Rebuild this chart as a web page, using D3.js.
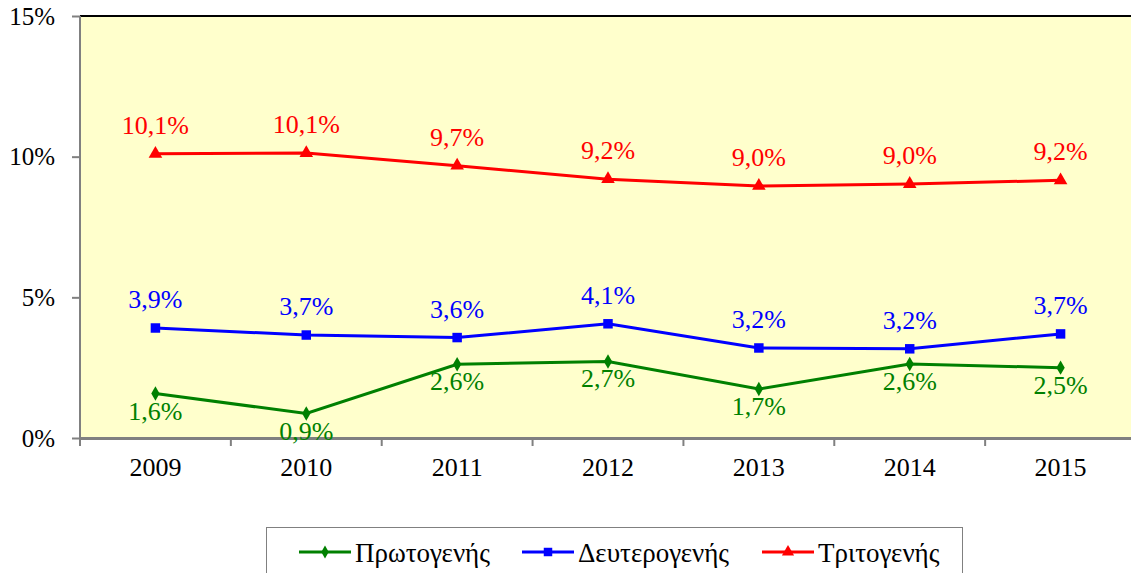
<!doctype html>
<head>
  <meta charset="utf-8">
  <script src="https://cdnjs.cloudflare.com/ajax/libs/d3/7.8.2/d3.min.js"></script>
</head>
<style>
    body { margin: 0; background: #fff; }
    svg { display: block; }
</style>
<body>
    <div id="chart"></div>
    <script>
        // Δεδομένα
        const years = ['2009', '2010', '2011', '2012', '2013', '2014', '2015'];
        const primary = [1.58, 0.87, 2.62, 2.72, 1.74, 2.63, 2.5];
        const secondary = [3.91, 3.66, 3.57, 4.06, 3.2, 3.17, 3.7];
        const tertiary = [10.1, 10.13, 9.68, 9.2, 8.96, 9.03, 9.16];
        const seriesNames = ['Πρωτογενής', 'Δευτερογενής', 'Τριτογενής'];
        const yTicks = [0, 5, 10, 15];

        const FONT = '"Liberation Serif", "Times New Roman", serif';

        const series = [
            {name: seriesNames[0], values: primary, color: '#008000', symbol: d3.symbolDiamond, size: 60, labelDy: 26},
            {name: seriesNames[1], values: secondary, color: '#0000ff', symbol: d3.symbolSquare, size: 90, labelDy: -20},
            {name: seriesNames[2], values: tertiary, color: '#ff0000', symbol: d3.symbolTriangle, size: 80, labelDy: -20},
        ];

        const W = 1131, H = 573;
        const plot = {left: 80, top: 16, right: 1136, bottom: 438};

        const svg = d3.select('#chart').append('svg')
            .attr('width', W).attr('height', H)
            .attr('font-family', FONT);

        const x = d3.scaleBand().domain(years).range([plot.left, plot.right]);
        const y = d3.scaleLinear().domain([0, 15]).range([plot.bottom, plot.top]);

        // Φόντο περιοχής
        svg.append('rect')
            .attr('x', plot.left).attr('y', plot.top)
            .attr('width', plot.right - plot.left).attr('height', plot.bottom - plot.top)
            .attr('fill', '#ffffcc');
        svg.append('line')
            .attr('x1', plot.left).attr('x2', plot.right)
            .attr('y1', plot.top).attr('y2', plot.top)
            .attr('stroke', '#000').attr('stroke-width', 2);

        // Άξονας y
        const yAxis = svg.append('g')
            .attr('transform', `translate(${plot.left},0)`)
            .call(d3.axisLeft(y).tickValues(yTicks).tickSize(8).tickPadding(17)
                .tickFormat(d => d + '%'));
        yAxis.attr('font-family', FONT);
        yAxis.selectAll('path, line').attr('stroke', '#808080').attr('stroke-width', 2);
        yAxis.select('.domain').attr('d', `M0,${plot.bottom}V${plot.top}`);
        yAxis.selectAll('text').attr('font-size', 25).attr('fill', '#000');

        // Άξονας x
        const xAxis = svg.append('g')
            .attr('transform', `translate(0,${plot.bottom})`)
            .call(d3.axisBottom(x).tickSize(0).tickPadding(20));
        xAxis.attr('font-family', FONT);
        xAxis.select('.domain').attr('stroke', '#808080').attr('stroke-width', 3);
        xAxis.selectAll('text').attr('font-size', 26).attr('fill', '#000');
        xAxis.selectAll('.sep')
            .data(years)
            .enter().append('line')
            .attr('x1', d => x(d)).attr('x2', d => x(d))
            .attr('y1', 0).attr('y2', 8)
            .attr('stroke', '#808080').attr('stroke-width', 2);

        const cx = d => x(d) + x.bandwidth() / 2;
        const line = d3.line().x((v, i) => cx(years[i])).y(v => y(v));
        const fmt = v => v.toFixed(1).replace('.', ',') + '%';

        series.forEach(s => {
            svg.append('path')
                .attr('d', line(s.values))
                .attr('fill', 'none')
                .attr('stroke', s.color)
                .attr('stroke-width', 3);
            svg.selectAll(null)
                .data(s.values)
                .enter().append('path')
                .attr('d', d3.symbol().type(s.symbol).size(s.size))
                .attr('transform', (v, i) => `translate(${cx(years[i])},${y(v)})`)
                .attr('fill', s.color);
            svg.selectAll(null)
                .data(s.values)
                .enter().append('text')
                .attr('x', (v, i) => cx(years[i]))
                .attr('y', v => y(v) + s.labelDy)
                .attr('text-anchor', 'middle')
                .attr('font-size', 26)
                .attr('fill', s.color)
                .text(fmt);
        });

        // Υπόμνημα
        const legend = svg.append('g');
        legend.append('rect')
            .attr('x', 266.5).attr('y', 527.5)
            .attr('width', 696).attr('height', 60)
            .attr('fill', '#fff').attr('stroke', '#808080').attr('stroke-width', 1);
        const legendX = [299, 522, 762];
        series.forEach((s, i) => {
            const g = legend.append('g').attr('transform', `translate(${legendX[i]},552)`);
            g.append('line').attr('x1', 0).attr('x2', 52).attr('stroke', s.color).attr('stroke-width', 3);
            g.append('path')
                .attr('d', d3.symbol().type(s.symbol).size(s.size * 0.8))
                .attr('transform', 'translate(26,0)')
                .attr('fill', s.color);
            g.append('text')
                .attr('x', 56).attr('y', 10)
                .attr('font-size', 27)
                .attr('fill', '#000')
                .text(s.name);
        });
    </script>
</body>
